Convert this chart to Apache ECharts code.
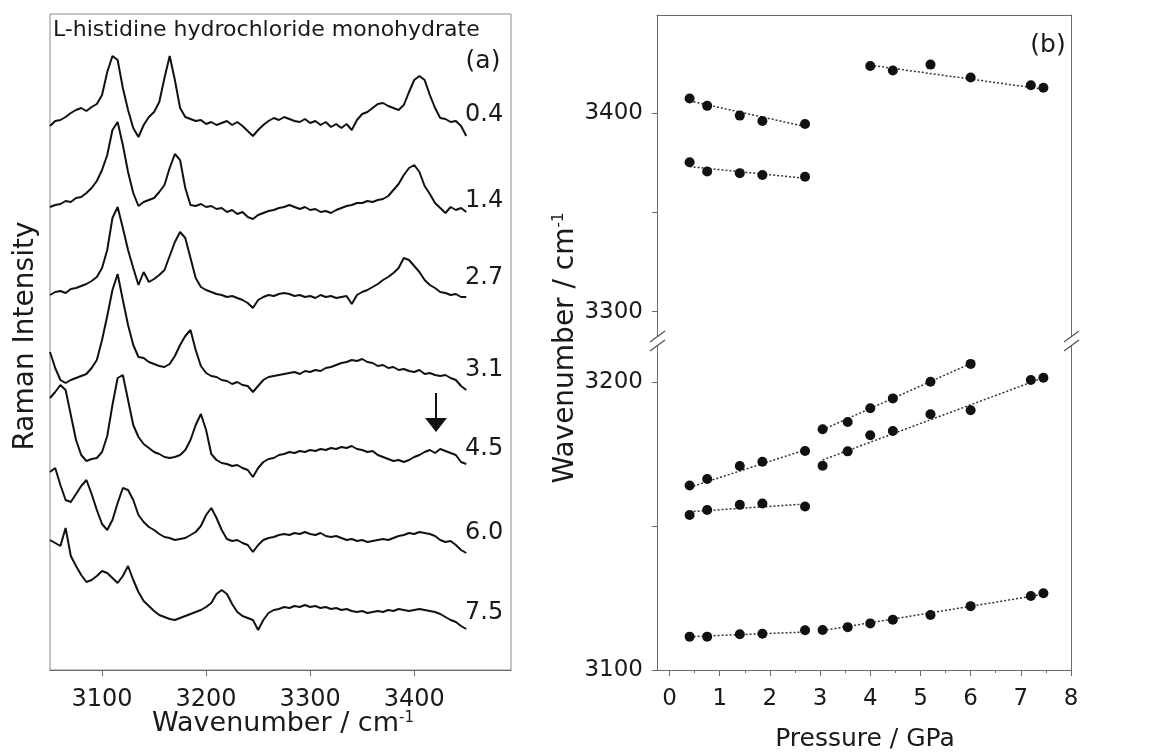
<!DOCTYPE html>
<html>
<head>
<meta charset="utf-8">
<script src="https://cdn.jsdelivr.net/npm/echarts@6.0.0/dist/echarts.min.js"></script>
<style>
  html, body { margin: 0; padding: 0; background: #fff; }
  #chart { width: 1153px; height: 752px; }
</style>
</head>
<body>
<div id="chart"></div>
<script>
// ---- panel (a): Raman spectra (arbitrary intensity units) ----
var wavenumbers = [
  3050, 3055, 3060, 3065, 3070, 3075, 3080, 3085, 3090, 3095,
  3100, 3105, 3110, 3115, 3120, 3125, 3130, 3135, 3140, 3145,
  3150, 3155, 3160, 3165, 3170, 3175, 3180, 3185, 3190, 3195,
  3200, 3205, 3210, 3215, 3220, 3225, 3230, 3235, 3240, 3245,
  3250, 3255, 3260, 3265, 3270, 3275, 3280, 3285, 3290, 3295,
  3300, 3305, 3310, 3315, 3320, 3325, 3330, 3335, 3340, 3345,
  3350, 3355, 3360, 3365, 3370, 3375, 3380, 3385, 3390, 3395,
  3400, 3405, 3410, 3415, 3420, 3425, 3430, 3435, 3440, 3445,
  3450
];

var int04 = [
  544, 549, 550, 553, 557, 560, 562, 559, 563, 566,
  575, 598, 614, 610, 582, 560, 542, 533, 545, 553,
  558, 568, 592, 614, 590, 562, 553, 551, 549, 550,
  546, 548, 545, 547, 549, 545, 548, 544, 539, 534,
  540, 545, 549, 552, 550, 553, 551, 549, 548, 551,
  547, 549, 545, 548, 543, 546, 542, 546, 540, 550,
  556, 558, 562, 566, 567, 564, 562, 560, 565, 578,
  590, 594, 590, 575, 562, 552, 551, 548, 549, 544,
  534
];
var int14 = [
  463, 465, 466, 469, 468, 472, 473, 477, 482, 489,
  500, 515, 540, 548, 525, 498, 477, 464, 468, 470,
  472, 478, 485, 502, 516, 510, 482, 465, 464, 466,
  463, 464, 461, 462, 458, 460, 456, 458, 453, 451,
  455, 457, 459, 460, 462, 463, 465, 463, 461, 463,
  460, 461, 458, 459, 457, 460, 462, 464, 465, 467,
  467, 469, 468, 470, 471, 474, 480, 486, 495, 502,
  505, 498, 484, 476, 467, 462, 457, 463, 460, 462,
  458
];
var int27 = [
  375, 378, 379, 377, 381, 382, 384, 386, 389, 393,
  402, 420, 452, 463, 442, 420, 402, 385, 398, 388,
  391, 395, 400, 414, 428, 438, 432, 412, 392, 383,
  380, 378, 376, 375, 373, 374, 372, 370, 367, 362,
  370, 373, 375, 374, 376, 377, 376, 374, 375, 373,
  374, 372, 375, 373, 374, 372, 373, 374, 366, 375,
  378, 380, 383, 386, 390, 393, 397, 402, 412, 410,
  404, 398, 390, 385, 382, 378, 377, 375, 376, 373,
  373
];
var int31 = [
  318, 302, 290, 287, 290, 292, 294, 296, 302, 310,
  330, 354, 380, 396, 370, 345, 325, 313, 312, 308,
  306, 304, 303, 306, 314, 325, 334, 340, 320, 304,
  297, 294, 293, 290, 289, 286, 288, 285, 284, 278,
  284, 290, 293, 294, 295, 296, 297, 298, 296, 299,
  298, 300, 299, 302, 303, 305, 307, 308, 310, 309,
  311, 308, 307, 304, 305, 302, 303, 300, 301, 299,
  298, 300, 296, 297, 295, 294, 295, 292, 290, 284,
  280
];
var int45 = [
  272, 278, 285, 280, 255, 230, 215, 209, 211, 212,
  218, 234, 265, 292, 295, 270, 245, 233, 226, 222,
  218, 216, 213, 212, 213, 215, 220, 230, 245, 256,
  240, 216, 210, 207, 206, 204, 205, 202, 200, 193,
  202, 208, 211, 212, 215, 216, 218, 217, 219, 218,
  220, 219, 221, 220, 222, 221, 223, 222, 224, 221,
  220, 218, 219, 215, 213, 211, 209, 210, 208, 210,
  213, 215, 218, 220, 217, 221, 219, 217, 215, 208,
  206
];
var int60 = [
  198, 202, 185, 170, 168, 176, 184, 190, 176, 160,
  146, 140, 150, 167, 182, 180, 170, 155, 148, 143,
  140, 136, 133, 132, 130, 131, 132, 135, 138, 144,
  155, 162, 152, 140, 131, 129, 130, 127, 125, 118,
  125, 130, 132, 133, 135, 136, 135, 137, 136, 138,
  136, 135, 137, 134, 133, 134, 132, 130, 131, 129,
  130, 128, 129, 130, 131, 130, 132, 134, 135, 137,
  136, 138, 137, 136, 134, 130, 128, 129, 125, 120,
  117
];
var int75 = [
  130, 127, 124, 142, 114, 104, 95, 88, 90, 94,
  99, 97, 92, 87, 94, 104, 90, 78, 69, 64,
  59, 55, 53, 51, 50, 52, 54, 56, 58, 60,
  63, 67, 76, 80, 76, 66, 58, 54, 52, 50,
  40, 50, 57, 60, 61, 63, 62, 64, 63, 65,
  63, 64, 62, 63, 61, 62, 60, 61, 59, 58,
  59, 57, 58, 59, 58, 60, 59, 61, 60, 59,
  60, 61, 60, 59, 58, 56, 53, 50, 48, 44,
  41
];
var spectraPressures = ['0.4', '1.4', '2.7', '3.1', '4.5', '6.0', '7.5'];
var spectraTicks = [3100, 3200, 3300, 3400];

// ---- panel (b): band positions vs pressure ----
var pLow = [0.4, 0.75, 1.4, 1.85, 2.7];
var pMid = [3.05, 3.55, 4.0, 4.45, 5.2, 6.0];
var pMidAll = [3.05, 3.55, 4.0, 4.45, 5.2, 6.0, 7.2, 7.45];
var pHigh = [4.0, 4.45, 5.2, 6.0, 7.2, 7.45];
var pAll = [0.4, 0.75, 1.4, 1.85, 2.7, 3.05, 3.55, 4.0, 4.45, 5.2, 6.0, 7.2, 7.45];

var bandA = [3407.4, 3403.7, 3398.8, 3396.1, 3394.6];
var bandB = [3375.3, 3370.6, 3369.8, 3368.9, 3368.0];
var bandC = [3423.8, 3421.5, 3424.5, 3418.0, 3414.1, 3412.8];
var bandD = [3164.1, 3166.4, 3170.9, 3172.4, 3176.1];
var bandE = [3183.7, 3186.2, 3191.0, 3194.4, 3200.2, 3206.4];
var bandF = [3171.0, 3176.0, 3181.6, 3183.1, 3188.9, 3190.3, 3200.8, 3201.6];
var bandG = [3153.9, 3155.6, 3157.4, 3157.9, 3156.8];
var bandH = [3111.6, 3111.6, 3112.4, 3112.6, 3113.8, 3113.9, 3114.9, 3116.2, 3117.5, 3119.1, 3122.2, 3125.7, 3126.7];

// linear fits (start / end as drawn)
var fitA = [[0.4, 3406.2], [2.7, 3393.3]];
var fitB = [[0.4, 3373.1], [2.7, 3367.2]];
var fitC = [[4.0, 3424.2], [7.45, 3412.1]];
var fitD = [[0.4, 3163.5], [2.7, 3176.5]];
var fitE = [[3.05, 3183.5], [6.0, 3206.5]];
var fitF = [[3.05, 3173.0], [7.45, 3201.6]];
var fitG = [[0.4, 3155.0], [2.7, 3157.7]];
var fitH1 = [[0.4, 3111.6], [2.7, 3113.2]];
var fitH2 = [[3.05, 3113.7], [7.45, 3126.3]];

var pressureTicks = [0, 1, 2, 3, 4, 5, 6, 7, 8];
var pressureMinorTicks = [0.5, 1.5, 2.5, 3.5, 4.5, 5.5, 6.5, 7.5];
var upperTicks = [3300, 3400];
var upperMinorTicks = [3350];
var lowerTicks = [3100, 3200];
var lowerMinorTicks = [3150];
var upperRange = [3285.7, 3449.5];
var lowerRange = [3100, 3214.7];

var FONT = 'DejaVu Sans';
var INK = '#1a1a1a';
var AXIS = '#6a6a6a';

function zip(xs, ys) {
  return xs.map(function (x, i) { return [x, ys[i]]; });
}

function spectrum(name, vals) {
  return {
    type: 'line',
    name: name,
    xAxisIndex: 0,
    yAxisIndex: 0,
    data: zip(wavenumbers, vals),
    symbol: 'none',
    lineStyle: { color: '#111', width: 2 },
    silent: true
  };
}

function dots(px, vals, upper) {
  return {
    type: 'scatter',
    xAxisIndex: upper ? 1 : 2,
    yAxisIndex: upper ? 1 : 3,
    data: zip(px, vals),
    symbolSize: 10,
    itemStyle: { color: '#111', opacity: 1 },
    z: 3
  };
}

function fitLine(seg, upper) {
  return {
    type: 'line',
    xAxisIndex: upper ? 1 : 2,
    yAxisIndex: upper ? 1 : 3,
    data: seg,
    symbol: 'none',
    lineStyle: { color: '#333', width: 1.5, type: [2, 2] },
    z: 2
  };
}

function plainAxis(extra) {
  var base = {
    type: 'value',
    splitLine: { show: false },
    axisLine: { show: true, onZero: false, lineStyle: { color: AXIS, width: 1 } },
    axisTick: { show: false },
    axisLabel: { show: false }
  };
  return Object.assign(base, extra);
}

function tickStyle(values, len) {
  return { show: true, customValues: values, length: len, lineStyle: { color: AXIS, width: 1 } };
}

function labelStyle(values, size, margin) {
  return {
    show: true, customValues: values, fontSize: size, fontFamily: FONT, color: INK, margin: margin,
    formatter: function (v) { return String(v); }
  };
}

var chart = echarts.init(document.getElementById('chart'), null, { renderer: 'canvas' });

var series = [
  spectrum(spectraPressures[0], int04),
  spectrum(spectraPressures[1], int14),
  spectrum(spectraPressures[2], int27),
  spectrum(spectraPressures[3], int31),
  spectrum(spectraPressures[4], int45),
  spectrum(spectraPressures[5], int60),
  spectrum(spectraPressures[6], int75),

  fitLine(fitA, true), fitLine(fitB, true), fitLine(fitC, true),
  fitLine(fitD, false), fitLine(fitE, false), fitLine(fitF, false),
  fitLine(fitG, false), fitLine(fitH1, false), fitLine(fitH2, false),

  dots(pLow, bandA, true), dots(pLow, bandB, true), dots(pHigh, bandC, true),
  dots(pLow, bandD, false), dots(pMid, bandE, false), dots(pMidAll, bandF, false),
  dots(pLow, bandG, false), dots(pAll, bandH, false)
];

// pressure labels next to each spectrum
var labelY = [115, 201, 278, 370, 449, 533, 613];
var graphics = spectraPressures.map(function (p, i) {
  return {
    type: 'text', x: 465, y: labelY[i],
    style: { text: p, font: '24px "' + FONT + '"', fill: INK, align: 'left', verticalAlign: 'middle' }
  };
});

function txt(x, y, text, size, opts) {
  var el = {
    type: 'text', x: x, y: y,
    style: {
      text: text, font: size + 'px "' + FONT + '"', fill: INK,
      align: 'center', verticalAlign: 'middle',
      rich: {
        m: { fontSize: size, fontFamily: FONT, fill: INK },
        sup: { fontSize: 15, fontFamily: FONT, fill: INK, verticalAlign: 'top' }
      }
    }
  };
  return Object.assign(el, opts || {});
}

graphics.push(
  txt(53, 30, 'L-histidine hydrochloride monohydrate', 22, {}),
  txt(483, 61, '(a)', 25),
  txt(1048, 45, '(b)', 25),
  txt(26, 336, 'Raman Intensity', 28, { rotation: Math.PI / 2 }),
  txt(283, 724, '{m|Wavenumber / cm}{sup|-1}', 27),
  txt(566, 348, '{m|Wavenumber / cm}{sup|-1}', 28, { rotation: Math.PI / 2 }),
  txt(865, 739, 'Pressure / GPa', 25)
);
graphics[7].style.align = 'left';

// arrow in panel (a)
graphics.push(
  { type: 'line', shape: { x1: 436, y1: 393, x2: 436, y2: 420 }, style: { stroke: '#111', lineWidth: 2 } },
  { type: 'polygon', shape: { points: [[425, 418], [447, 418], [436, 432]] }, style: { fill: '#111' } }
);

// axis break marks on both sides of panel (b)
[657, 1071].forEach(function (x0) {
  graphics.push(
    { type: 'rect', shape: { x: x0 - 2, y: 337, width: 4, height: 8 }, style: { fill: '#fff' }, z: 100 },
    { type: 'line', shape: { x1: x0 - 7, y1: 342, x2: x0 + 8, y2: 331 }, style: { stroke: '#555', lineWidth: 1.3 }, z: 101 },
    { type: 'line', shape: { x1: x0 - 7, y1: 351, x2: x0 + 8, y2: 340 }, style: { stroke: '#555', lineWidth: 1.3 }, z: 101 }
  );
});

var option = {
  backgroundColor: '#fff',
  animation: false,
  grid: [
    { left: 50, top: 14, width: 461, height: 656, show: true, borderColor: '#8a8a8a', borderWidth: 1, backgroundColor: 'transparent' },
    { left: 657, top: 15, width: 414, height: 325 },
    { left: 657, top: 340, width: 414, height: 330 }
  ],
  xAxis: [
    plainAxis({ gridIndex: 0, min: 3050, max: 3493, position: 'bottom',
      axisTick: tickStyle(spectraTicks, 6), axisLabel: labelStyle(spectraTicks, 24, 18) }),
    plainAxis({ gridIndex: 1, min: -0.25, max: 8, position: 'top' }),
    plainAxis({ gridIndex: 2, min: -0.25, max: 8, position: 'bottom',
      axisTick: tickStyle(pressureTicks, 6), axisLabel: labelStyle(pressureTicks, 23, 18) }),
    plainAxis({ gridIndex: 2, min: -0.25, max: 8, position: 'bottom',
      axisLine: { show: false }, axisTick: tickStyle(pressureMinorTicks, 3) })
  ],
  yAxis: [
    plainAxis({ gridIndex: 0, min: 0, max: 656, axisLine: { show: false } }),
    plainAxis({ gridIndex: 1, min: upperRange[0], max: upperRange[1], position: 'left',
      axisTick: tickStyle(upperTicks.concat(upperMinorTicks), 5), axisLabel: labelStyle(upperTicks, 23, 14) }),
    plainAxis({ gridIndex: 1, min: upperRange[0], max: upperRange[1], position: 'right' }),
    plainAxis({ gridIndex: 2, min: lowerRange[0], max: lowerRange[1], position: 'left',
      axisTick: tickStyle(lowerTicks.concat(lowerMinorTicks), 5), axisLabel: labelStyle(lowerTicks, 23, 14) }),
    plainAxis({ gridIndex: 2, min: lowerRange[0], max: lowerRange[1], position: 'right' })
  ],
  series: series,
  graphic: graphics
};

chart.setOption(option);
</script>
</body>
</html>
